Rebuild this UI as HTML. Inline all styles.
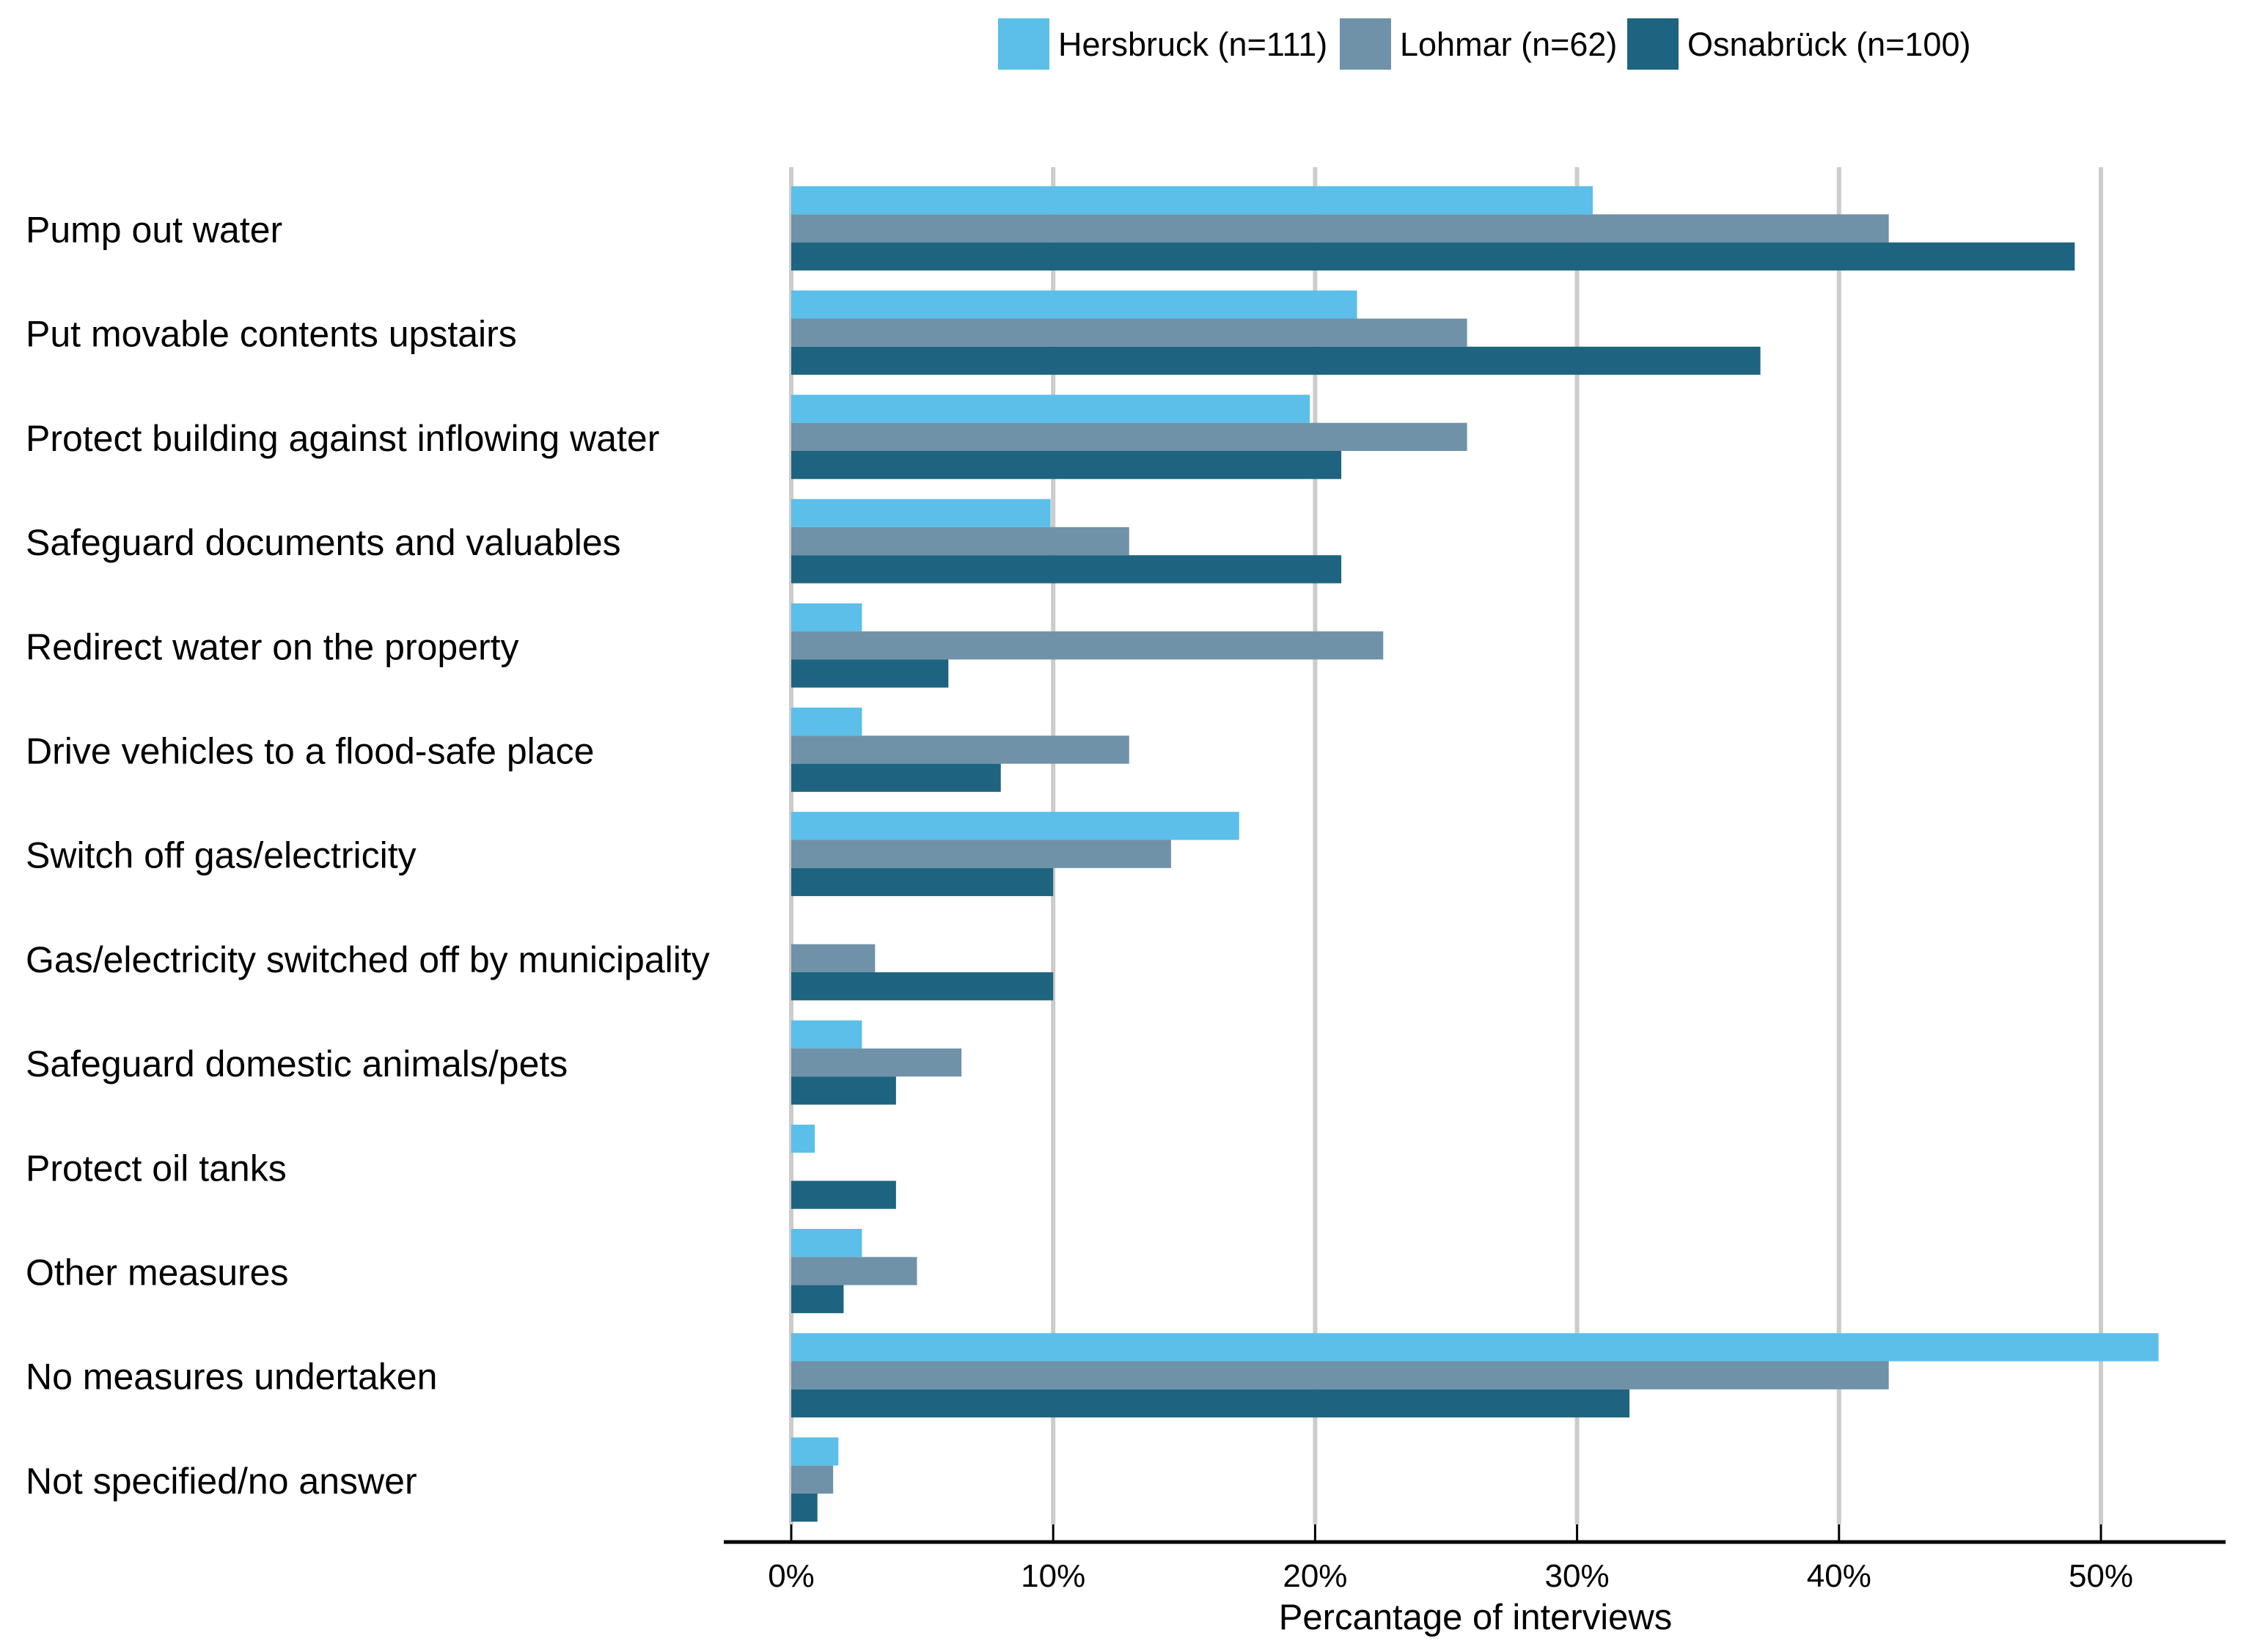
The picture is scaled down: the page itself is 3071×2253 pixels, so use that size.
<!DOCTYPE html>
<html><head><meta charset="utf-8"><style>
html,body{margin:0;padding:0;background:#fff}
svg{display:block;font-family:"Liberation Sans",Arial,sans-serif}
</style></head><body>
<svg id="chart" width="3071" height="2253" viewBox="0 0 3071 2253" xmlns="http://www.w3.org/2000/svg">
<g id="grid"></g>
<g id="bars"></g>
<g id="axis"></g>
<g id="labels"></g>
<g id="legend"></g>
</svg>
<script>
const categories = ["Pump out water","Put movable contents upstairs","Protect building against inflowing water","Safeguard documents and valuables","Redirect water on the property","Drive vehicles to a flood-safe place","Switch off gas/electricity","Gas/electricity switched off by municipality","Safeguard domestic animals/pets","Protect oil tanks","Other measures","No measures undertaken","Not specified/no answer"];
const hersbruck = [30.6,21.6,19.8,9.9,2.7,2.7,17.1,0,2.7,0.9,2.7,52.2,1.8];
const lohmar = [41.9,25.8,25.8,12.9,22.6,12.9,14.5,3.2,6.5,0,4.8,41.9,1.6];
const osnabrueck = [49,37,21,21,6,8,10,10,4,4,2,32,1];
const seriesNames = ["Hersbruck (n=111)","Lohmar (n=62)","Osnabrück (n=100)"];
const tickValues = [0,10,20,30,40,50];
const tickLabels = ["0%","10%","20%","30%","40%","50%"];

const NS="http://www.w3.org/2000/svg";
const colors=["#5bbfe9","#7092a8","#1e6480"];
const x0=1079, pxPer=35.72, top0=254, pitch=142.2, bh=38.3, axisY=2103;
const X=v=>x0+v*pxPer;
const Y=i=>top0+i*pitch;
function mk(tag,attrs,parent){const e=document.createElementNS(NS,tag);for(const k in attrs)e.setAttribute(k,attrs[k]);parent.appendChild(e);return e;}
const grid=document.getElementById('grid'),bars=document.getElementById('bars'),axis=document.getElementById('axis'),labels=document.getElementById('labels'),legend=document.getElementById('legend');

tickValues.forEach((t,i)=>{
  const g=mk('line',{x1:X(t),x2:X(t),y1:228,y2:axisY-24,stroke:'#cccccc','stroke-width':6},grid);
  
  
  const tk=mk('line',{x1:X(t),x2:X(t),y1:axisY-24,y2:axisY,stroke:'#000','stroke-width':3},axis);
  
  
  const tl=mk('text',{x:X(t),y:2164,'font-size':44,'text-anchor':'middle',fill:'#000'},axis);
  tl.textContent=tickLabels[i];
  
  
});
const al=mk('line',{x1:987,x2:3035,y1:axisY,y2:axisY,stroke:'#000','stroke-width':5},axis);


const at=mk('text',{x:2012,y:2222,'font-size':49,'text-anchor':'middle',fill:'#000'},axis);
at.textContent='Percantage of interviews';



const series=[hersbruck,lohmar,osnabrueck];
categories.forEach((c,i)=>{
  series.forEach((s,j)=>{
    if(s[i]<=0)return;
    const r=mk('rect',{x:x0,y:Y(i)+j*bh,width:X(s[i])-x0,height:bh,fill:colors[j]},bars);
    
    
  });
  const t=mk('text',{x:35,y:Y(i)+1.5*bh+19,'font-size':50,fill:'#000'},labels);
  t.textContent=c;
  
  
});

const lx=[1361,1827,2219];
seriesNames.forEach((n,j)=>{
  const sw=mk('rect',{x:lx[j],y:25,width:70,height:70,fill:colors[j]},legend);
  
  
  const t=mk('text',{x:lx[j]+82,y:76,'font-size':45,fill:'#000'},legend);
  t.textContent=n;
  
  
});
</script>
</body></html>
